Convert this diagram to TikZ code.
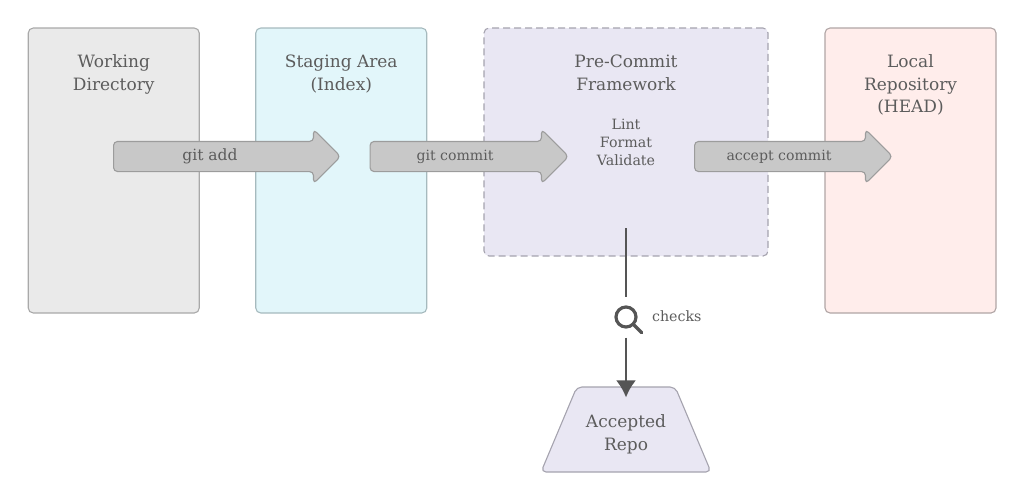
\documentclass[tikz,border=0pt]{standalone}
\usepackage{fontspec}
\setmainfont{DejaVu Serif}
\usepackage{xcolor}
\usetikzlibrary{arrows.meta, calc, shapes.arrows, shapes.geometric, positioning}

\definecolor{inkgray}{HTML}{5C5C5C}
\definecolor{linegray}{HTML}{555555}
\definecolor{arrowfill}{HTML}{C8C8C8}
\definecolor{arrowline}{HTML}{9C9C9C}
\definecolor{workfill}{HTML}{EAEAEA}
\definecolor{workline}{HTML}{A9A9A9}
\definecolor{stagefill}{HTML}{E2F6FA}
\definecolor{stageline}{HTML}{A6BABE}
\definecolor{hookfill}{HTML}{E9E7F3}
\definecolor{hookline}{HTML}{A5A3AE}
\definecolor{repofill}{HTML}{FFEDEB}
\definecolor{repoline}{HTML}{B0A5A5}

\tikzset{
    areabox/.style={rectangle, draw=#1, line width=1.1pt, rounded corners=5pt, minimum width=171pt, minimum height=285pt},
    areatitle/.style={text=inkgray, align=center, font=\fontsize{17}{22.5}\selectfont},
    flowarrow/.style={single arrow, draw=arrowline, fill=arrowfill, line width=1.1pt, rounded corners=4pt,
        minimum height=#1, minimum width=53pt, single arrow head extend=12pt, inner sep=0pt,
        text height=19pt, text depth=10pt, anchor=tail},
    flowtext/.style={text=inkgray, anchor=base, font=\fontsize{14.1}{16}\selectfont},
    smalltext/.style={text=inkgray, align=center, font=\fontsize{14.2}{18}\selectfont}
}

\begin{document}
\begin{tikzpicture}[x=1pt, y=-1pt, >=stealth]
    \useasboundingbox (0,0) rectangle (1024,501);

    % Four areas, left to right
    \node[areabox=workline, fill=workfill] (work) at (113.75,170.5) {};
    \node[areabox=stageline, fill=stagefill] (stage) at (341.25,170.5) {};
    \node[areabox=hookline, fill=hookfill, dash pattern=on 7pt off 4pt, minimum width=284pt, minimum height=228pt] (hook) at (626,142) {};
    \node[areabox=repoline, fill=repofill] (repo) at (910.5,170.5) {};

    % Titles
    \node[areatitle, below=24pt of work.north] (worktitle) {Working\\Directory};
    \node[areatitle, below=24pt of stage.north] (stagetitle) {Staging Area\\(Index)};
    \node[areatitle, below=24pt of hook.north] (hooktitle) {Pre-Commit\\Framework};
    \node[areatitle, below=24pt of repo.north] (repotitle) {Local\\Repository\\(HEAD)};
    \node[smalltext] (hooklist) at (626,142) {Lint\\Format\\Validate};

    % Block arrows, labels centred on the shafts
    \node[flowarrow=227pt] (addarrow) at (113,156.5) {};
    \node[flowarrow=198.5pt] (commitarrow) at (369.5,156.5) {};
    \node[flowarrow=198pt] (acceptarrow) at (694,156.5) {};
    \node[flowtext, font=\fontsize{15.5}{16}\selectfont] (addtext) at (210,160.5) {git add};
    \node[flowtext] (committext) at (455,160.5) {git commit};
    \node[flowtext] (accepttext) at (779,160.5) {accept commit};

    % Accepted repo and the checks step
    \node[trapezium, trapezium left angle=70, trapezium right angle=70, trapezium stretches=true,
        draw=hookline, fill=hookfill, line width=1.1pt, rounded corners=5pt,
        minimum width=170pt, minimum height=85pt] (accepted) at (626,429.5) {};
    \node[areatitle] (acceptedtitle) at ($(accepted.center)+(0,5)$) {Accepted\\Repo};
    \coordinate (linestart) at (626,228);
    \node[circle, draw=linegray, line width=3.2pt, minimum size=20pt, inner sep=0pt] (lens) at (626,317) {};
    \draw[linegray, line width=3.2pt, line cap=round] (lens.south east) -- ++(7.5,7.5);
    \node[smalltext, right=11pt of lens.east, yshift=1pt] (checks) {checks};
    \draw[linegray, line width=2.4pt] (linestart) -- ($(lens.north)+(0,-8)$);
    \draw[linegray, line width=2.4pt, -{Latex[length=17pt, width=20pt]}] ($(lens.south)+(0,9)$) -- ($(accepted.north)+(0,11)$);
\end{tikzpicture}
\end{document}
